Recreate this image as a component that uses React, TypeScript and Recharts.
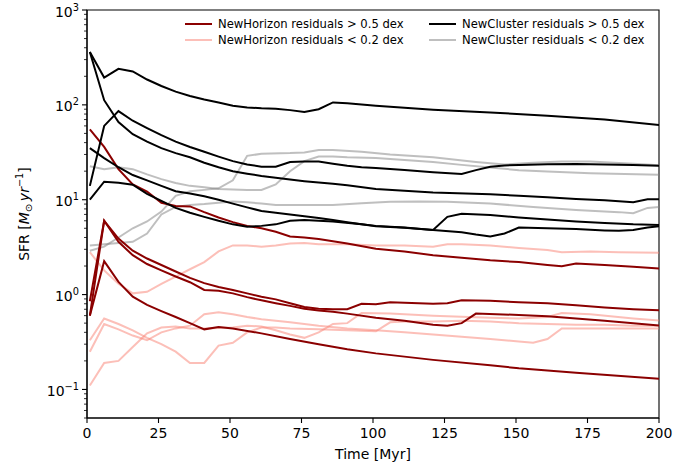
import React from 'react';
import { LineChart, Line, XAxis, YAxis, Legend, ReferenceArea } from 'recharts';

type Pt = [number, number];

// time in Myr, SFR in Msun/yr
const nhHigh1: Pt[] = [[1, 55], [6, 36], [11, 21], [16, 14.5], [21, 12.2], [26, 9.3], [31, 8.6], [36, 8.5], [41, 7.4], [46, 6.5], [51, 5.8], [56, 5.3], [61, 5.0], [66, 4.6], [71, 4.1], [76, 4.0], [81, 3.85], [91, 3.45], [101, 3.05], [111, 2.85], [121, 2.6], [131, 2.45], [141, 2.3], [151, 2.2], [161, 2.05], [166, 1.99], [171, 2.12], [181, 2.05], [191, 1.97], [201, 1.88]];
const nhHigh2: Pt[] = [[1, 0.85], [6, 6.0], [11, 3.9], [16, 2.9], [21, 2.4], [26, 2.05], [31, 1.75], [36, 1.5], [41, 1.32], [46, 1.2], [51, 1.12], [56, 1.03], [61, 0.95], [66, 0.89], [71, 0.81], [76, 0.74], [81, 0.71], [86, 0.7], [91, 0.7], [96, 0.8], [101, 0.79], [106, 0.83], [111, 0.82], [121, 0.8], [126, 0.81], [131, 0.87], [141, 0.86], [151, 0.83], [161, 0.81], [171, 0.77], [181, 0.73], [191, 0.7], [201, 0.68]];
const nhHigh3: Pt[] = [[1, 0.6], [6, 6.0], [11, 3.6], [16, 2.6], [21, 2.1], [26, 1.8], [31, 1.55], [36, 1.35], [41, 1.12], [46, 1.1], [51, 1.03], [56, 0.94], [61, 0.87], [66, 0.81], [71, 0.76], [76, 0.71], [81, 0.68], [86, 0.66], [91, 0.63], [101, 0.57], [111, 0.53], [121, 0.48], [126, 0.47], [131, 0.5], [136, 0.63], [151, 0.61], [161, 0.59], [171, 0.56], [181, 0.53], [191, 0.5], [201, 0.47]];
const nhHigh4: Pt[] = [[1, 0.6], [6, 2.25], [11, 1.36], [16, 0.95], [21, 0.78], [26, 0.67], [31, 0.58], [36, 0.5], [41, 0.43], [46, 0.455], [51, 0.44], [61, 0.39], [71, 0.34], [81, 0.3], [91, 0.265], [101, 0.24], [121, 0.205], [141, 0.18], [151, 0.167], [171, 0.15], [201, 0.129]];

const nhLow1: Pt[] = [[1, 2.8], [6, 1.8], [11, 1.3], [16, 1.03], [21, 1.07], [26, 1.3], [31, 1.55], [36, 1.85], [41, 2.2], [46, 2.85], [51, 3.3], [56, 3.3], [61, 3.2], [66, 3.3], [71, 3.45], [76, 3.5], [81, 3.4], [91, 3.4], [101, 3.3], [111, 3.3], [121, 3.2], [126, 3.4], [131, 3.4], [141, 3.3], [151, 3.1], [161, 2.95], [166, 2.8], [176, 2.85], [186, 2.8], [201, 2.75]];
const nhLow2: Pt[] = [[1, 0.33], [6, 0.56], [11, 0.49], [16, 0.42], [21, 0.35], [26, 0.3], [31, 0.25], [36, 0.19], [41, 0.19], [46, 0.29], [51, 0.31], [56, 0.4], [61, 0.45], [66, 0.45], [71, 0.44], [81, 0.43], [91, 0.42], [101, 0.41], [106, 0.51], [111, 0.52], [121, 0.52], [131, 0.53], [141, 0.52], [151, 0.5], [161, 0.49], [171, 0.48], [181, 0.48], [191, 0.47], [201, 0.47]];
const nhLow3: Pt[] = [[1, 0.25], [6, 0.49], [11, 0.43], [16, 0.37], [21, 0.33], [26, 0.4], [31, 0.44], [36, 0.47], [41, 0.62], [46, 0.65], [51, 0.62], [56, 0.58], [61, 0.55], [71, 0.51], [81, 0.47], [91, 0.44], [101, 0.42], [111, 0.4], [121, 0.38], [131, 0.36], [141, 0.34], [151, 0.32], [156, 0.31], [161, 0.34], [166, 0.44], [181, 0.44], [201, 0.44]];
const nhLow4: Pt[] = [[1, 0.11], [6, 0.19], [11, 0.2], [16, 0.28], [21, 0.39], [26, 0.45], [31, 0.46], [36, 0.44], [41, 0.44], [51, 0.45], [56, 0.47], [61, 0.46], [66, 0.42], [71, 0.38], [76, 0.35], [81, 0.4], [86, 0.49], [91, 0.5], [96, 0.64], [106, 0.63], [121, 0.6], [141, 0.57], [151, 0.56], [161, 0.58], [166, 0.64], [176, 0.62], [191, 0.56], [201, 0.53]];

const ncHigh1: Pt[] = [[1, 360], [6, 194], [11, 240], [16, 225], [21, 185], [26, 158], [31, 138], [36, 124], [41, 114], [46, 106], [51, 98], [56, 94], [61, 92], [66, 91], [71, 88], [76, 84], [81, 90], [86, 106], [91, 104], [101, 98], [121, 89], [141, 83], [161, 77], [181, 70], [201, 61]];
const ncHigh2: Pt[] = [[1, 360], [6, 112], [11, 66], [16, 49], [21, 41], [26, 35], [31, 31], [36, 28], [41, 24.5], [46, 22], [51, 20], [56, 18.8], [61, 17.8], [66, 17], [71, 16.3], [76, 15.7], [81, 15.2], [86, 14.7], [91, 14.2], [101, 13], [121, 11.9], [141, 11.4], [151, 11], [161, 10.6], [171, 10.2], [181, 9.9], [191, 9.4], [196, 10.1], [201, 10.1]];
const ncHigh3: Pt[] = [[1, 14], [6, 60], [11, 86], [16, 68], [21, 57], [26, 48], [31, 41], [36, 36], [41, 32], [46, 28.5], [51, 25.5], [56, 23.5], [61, 22.3], [66, 22.3], [71, 25], [76, 25.3], [81, 25.3], [86, 24], [91, 22.8], [96, 22], [101, 21.6], [111, 20.6], [121, 19.5], [131, 18.7], [136, 20.5], [141, 22.3], [146, 23], [151, 23.2], [161, 23.6], [171, 23.8], [181, 23.5], [191, 23.2], [201, 22.8]];
const ncHigh4: Pt[] = [[1, 35], [6, 27.5], [11, 22], [16, 18.2], [21, 16], [26, 14], [31, 12.3], [36, 11.6], [41, 10.9], [46, 10], [51, 9.1], [56, 8.3], [61, 7.6], [66, 7.3], [71, 7.0], [76, 6.7], [81, 6.4], [86, 6.1], [91, 5.8], [96, 5.5], [101, 5.25], [111, 5.05], [121, 4.8], [126, 6.6], [131, 7.1], [141, 6.9], [151, 6.5], [161, 6.2], [171, 5.9], [181, 5.7], [191, 5.5], [201, 5.4]];
const ncHigh5: Pt[] = [[1, 10], [6, 15.5], [11, 15.1], [16, 14.4], [21, 11.5], [26, 9.7], [31, 8.2], [36, 7.3], [41, 6.6], [46, 6.0], [51, 5.5], [56, 5.2], [61, 5.3], [66, 5.5], [71, 6.0], [76, 6.1], [86, 5.9], [96, 5.5], [101, 5.3], [111, 5.1], [121, 4.8], [131, 4.55], [136, 4.3], [141, 4.1], [146, 4.4], [151, 5.1], [161, 5.0], [171, 4.9], [181, 4.75], [186, 4.7], [191, 4.8], [196, 5.1], [201, 5.3]];

const ncLow1: Pt[] = [[1, 22.5], [6, 21], [11, 22], [16, 21], [21, 18.5], [26, 16.5], [31, 15], [36, 14], [41, 13.5], [46, 13], [51, 12.8], [56, 12.7], [61, 12.7], [66, 14.5], [71, 20], [76, 25.5], [81, 28.5], [86, 28.5], [91, 28], [101, 27.5], [111, 26.3], [121, 25], [131, 23.3], [141, 21.8], [151, 20.5], [161, 19.8], [176, 19], [201, 18.3]];
const ncLow2: Pt[] = [[1, 2.9], [6, 3.2], [11, 4.0], [16, 5.0], [21, 5.9], [26, 7.5], [31, 11], [36, 12.3], [41, 12.7], [46, 13.2], [51, 16], [56, 29], [61, 30.5], [71, 31], [76, 31.5], [81, 33.5], [86, 33.5], [96, 32], [106, 30], [121, 28], [136, 25], [146, 23.5], [156, 24.5], [166, 25.3], [176, 25.3], [191, 24], [201, 23]];
const ncLow3: Pt[] = [[1, 3.3], [6, 3.4], [11, 3.5], [16, 3.6], [21, 4.4], [26, 7.0], [31, 8.4], [36, 8.8], [41, 9.0], [46, 9.3], [51, 9.6], [56, 9.4], [61, 9.1], [66, 8.8], [76, 8.8], [86, 8.8], [96, 9.2], [106, 9.5], [116, 9.6], [126, 9.5], [141, 9.1], [156, 8.4], [171, 7.8], [186, 7.4], [191, 7.2], [196, 8.2], [201, 8.4]];

const xTicks = [0, 25, 50, 75, 100, 125, 150, 175, 200];
const yMajorTicks = [0.1, 1, 10, 100, 1000];
const yMinorTicks = [0.05, 0.06, 0.07, 0.08, 0.09, 0.2, 0.3, 0.4, 0.5, 0.6, 0.7, 0.8, 0.9, 2, 3, 4, 5, 6, 7, 8, 9, 20, 30, 40, 50, 60, 70, 80, 90, 200, 300, 400, 500, 600, 700, 800, 900];

const NH_HIGH = '#8b0000';
const NH_LOW = '#fa8072';
const NC_HIGH = '#000000';
const NC_LOW = '#808080';

const groups = [
  { label: 'NewHorizon residuals > 0.5 dex', color: NH_HIGH, opacity: 1, series: [nhHigh1, nhHigh2, nhHigh3, nhHigh4] },
  { label: 'NewHorizon residuals < 0.2 dex', color: NH_LOW, opacity: 0.5, series: [nhLow1, nhLow2, nhLow3, nhLow4] },
  { label: 'NewCluster residuals > 0.5 dex', color: NC_HIGH, opacity: 1, series: [ncHigh1, ncHigh2, ncHigh3, ncHigh4, ncHigh5] },
  { label: 'NewCluster residuals < 0.2 dex', color: NC_LOW, opacity: 0.5, series: [ncLow1, ncLow2, ncLow3] },
];

// faint lines go underneath the strong ones
const drawOrder = [groups[1], groups[3], groups[0], groups[2]];

const FONT = '"DejaVu Sans", sans-serif';
const toRows = (pts: Pt[]) => pts.map(([t, v]) => ({ t, v }));

const superscripts: Record<string, string> = { '0.1': '\u22121', '1': '0', '10': '1', '100': '2', '1000': '3' };

const YTick = (props: any) => {
  const { x, y, payload } = props;
  const major = yMajorTicks.includes(payload.value);
  return (
    <g>
      <line x1={x} x2={x - (major ? 5 : 3)} y1={y} y2={y} stroke="#000" strokeWidth={major ? 1.1 : 0.8} />
      {major && (
        <text x={x - 8} y={y + 6.6} textAnchor="end" fontSize={14} fontFamily={FONT} fill="#000">
          10<tspan dy={-6} fontSize={9.8}>{superscripts[String(payload.value)]}</tspan>
        </text>
      )}
    </g>
  );
};

const XTick = (props: any) => {
  const { x, y, payload } = props;
  return (
    <g>
      <line x1={x} x2={x} y1={y} y2={y + 5} stroke="#000" strokeWidth={1.1} />
      <text x={x} y={y + 20} textAnchor="middle" fontSize={14} fontFamily={FONT} fill="#000">
        {payload.value}
      </text>
    </g>
  );
};

const renderLegend = () => (
  <div style={{ position: 'relative', width: 470, height: 36, fontFamily: FONT, fontSize: 11.6, color: '#000' }}>
    {groups.map((g, i) => (
      <div
        key={g.label}
        style={{ position: 'absolute', left: i < 2 ? 0 : 244, top: (i % 2) * 16.4, height: 16, display: 'flex', alignItems: 'center', whiteSpace: 'nowrap' }}
      >
        <svg width={33} height={16}>
          <line x1={0} x2={27} y1={8} y2={8} stroke={g.color} strokeOpacity={g.opacity} strokeWidth={2} />
        </svg>
        <span>{g.label}</span>
      </div>
    ))}
  </div>
);

const App = () => {
  return (
    <div style={{ position: 'absolute', left: 0, top: 0, background: '#fff' }}>
      <LineChart width={700} height={468} margin={{ top: 10, right: 41, bottom: 0, left: 0 }} style={{ fontFamily: FONT }}>
        <XAxis
          type="number"
          dataKey="t"
          domain={[0, 200]}
          allowDataOverflow
          ticks={xTicks}
          interval={0}
          height={50}
          tickSize={0}
          tickMargin={0}
          tickLine={false}
          axisLine={{ stroke: '#000', strokeWidth: 1.1 }}
          tick={<XTick />}
        />
        <YAxis
          type="number"
          scale="log"
          domain={[0.05, 1000]}
          allowDataOverflow
          ticks={[...yMinorTicks, ...yMajorTicks]}
          interval={0}
          width={87}
          tickSize={0}
          tickMargin={0}
          tickLine={false}
          axisLine={{ stroke: '#000', strokeWidth: 1.1 }}
          tick={<YTick />}
        />
        <ReferenceArea x1={0} x2={200} y1={0.05} y2={1000} fill="none" stroke="#000" strokeWidth={1.1} ifOverflow="visible" />
        {drawOrder.map((g) =>
          g.series.map((s, j) => (
            <Line
              key={`${g.label}-${j}`}
              data={toRows(s)}
              dataKey="v"
              type="linear"
              stroke={g.color}
              strokeOpacity={g.opacity}
              strokeWidth={2}
              dot={false}
              activeDot={false}
              legendType="none"
              isAnimationActive={false}
            />
          ))
        )}
        <Legend
          layout="horizontal"
          verticalAlign="middle"
          align="center"
          wrapperStyle={{ left: 185, top: 16, width: 470, height: 36 }}
          content={renderLegend}
        />
        <text x={373} y={459} textAnchor="middle" fontSize={14} fontFamily={FONT} fill="#000">
          Time [Myr]
        </text>
        <text transform="translate(29,214) rotate(-90)" textAnchor="middle" fontSize={14} fontFamily={FONT} fill="#000">
          SFR [<tspan fontStyle="italic">M</tspan>
          <tspan fontSize={9.8} dy={2.5}>{'\u2299'}</tspan>
          <tspan dy={-2.5}>{'\u2009'}</tspan>
          <tspan fontStyle="italic">yr</tspan>
          <tspan fontSize={9.8} dy={-6}>{'\u22121'}</tspan>
          <tspan dy={6}>]</tspan>
        </text>
      </LineChart>
    </div>
  );
};

export default App;
